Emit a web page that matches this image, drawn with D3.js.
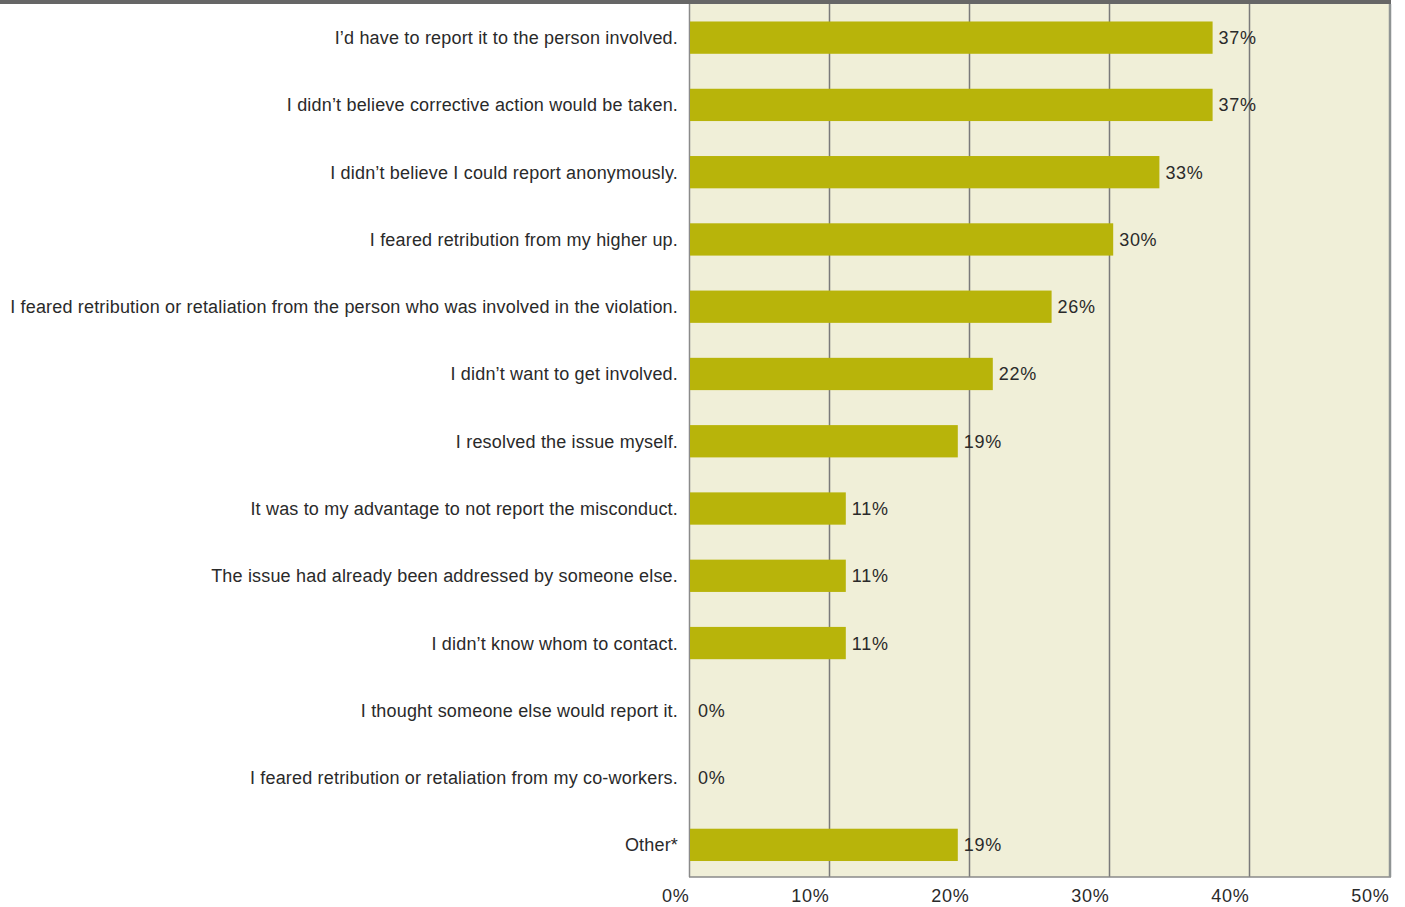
<!DOCTYPE html>
<html><head><meta charset="utf-8">
<script src="https://cdn.jsdelivr.net/npm/d3@7"></script>
<style>body{margin:0;background:#fff}svg{display:block}</style>
</head><body>
<svg id="c" width="1405" height="907"></svg>
<script>
const categories = [
  "I’d have to report it to the person involved.",
  "I didn’t believe corrective action would be taken.",
  "I didn’t believe I could report anonymously.",
  "I feared retribution from my higher up.",
  "I feared retribution or retaliation from the person who was involved in the violation.",
  "I didn’t want to get involved.",
  "I resolved the issue myself.",
  "It was to my advantage to not report the misconduct.",
  "The issue had already been addressed by someone else.",
  "I didn’t know whom to contact.",
  "I thought someone else would report it.",
  "I feared retribution or retaliation from my co-workers.",
  "Other*"
];
const values = [37.4, 37.4, 33.6, 30.3, 25.9, 21.7, 19.2, 11.2, 11.2, 11.2, 0, 0, 19.2];
const valueLabels = ["37%","37%","33%","30%","26%","22%","19%","11%","11%","11%","0%","0%","19%"];
const tickValues = [0, 10, 20, 30, 40, 50];
const tickLabels = ["0%","10%","20%","30%","40%","50%"];

const svg = d3.select("#c");
const L = 689, R = 1390, T = 4, B = 877;
const font = "'Liberation Sans', Arial, sans-serif";
const x = d3.scaleLinear().domain([0, 50]).range([L, R - 1]);
const y = d3.scaleBand().domain(categories).range([T, B + 1.5]).paddingInner(0.52).paddingOuter(0.26);

svg.append("rect").attr("x", L).attr("y", T).attr("width", R - L).attr("height", B - T).attr("fill", "#f0efd8");

// gridlines
svg.append("g").selectAll("line").data(tickValues.slice(1, -1)).join("line")
  .attr("x1", d => x(d) + 0.5).attr("x2", d => x(d) + 0.5)
  .attr("y1", T).attr("y2", B).attr("stroke", "#7a7a7a").attr("stroke-width", 1.5);

// borders
svg.append("line").attr("x1", L + 0.5).attr("x2", L + 0.5).attr("y1", T).attr("y2", B).attr("stroke", "#8a8a8a").attr("stroke-width", 1.5);
svg.append("line").attr("x1", L).attr("x2", R + 1).attr("y1", B).attr("y2", B).attr("stroke", "#8a8a8a").attr("stroke-width", 1.5);
svg.append("line").attr("x1", R).attr("x2", R).attr("y1", T).attr("y2", B).attr("stroke", "#8f9494").attr("stroke-width", 2.5);
svg.append("rect").attr("x", 0).attr("y", 0).attr("width", R + 1).attr("height", 4).attr("fill", "#666");

// bars
svg.append("g").selectAll("rect").data(values).join("rect")
  .attr("x", L + 1).attr("y", (d, i) => y(categories[i]))
  .attr("width", d => Math.max(0, x(d) - L - 1)).attr("height", y.bandwidth())
  .attr("fill", "#b8b40a");

// value labels
svg.append("g").selectAll("text").data(values).join("text")
  .attr("x", (d, i) => x(d) + (d === 0 ? 9 : 6))
  .attr("y", (d, i) => y(categories[i]) + y.bandwidth() / 2)
  .attr("dy", "0.36em").attr("font-family", font).attr("font-size", 18)
  .attr("letter-spacing", "0.7px").attr("fill", "#2a2a2a")
  .text((d, i) => valueLabels[i]);

// category labels
svg.append("g").selectAll("text").data(categories).join("text")
  .attr("x", 678).attr("y", d => y(d) + y.bandwidth() / 2)
  .attr("dy", "0.36em").attr("text-anchor", "end")
  .attr("font-family", font).attr("font-size", 18).attr("letter-spacing", "0.18px").attr("fill", "#2a2a2a")
  .text(d => d);

// x tick labels (end-anchored at gridlines)
const xAxis = d3.axisBottom(x).tickValues(tickValues).tickFormat((d, i) => tickLabels[i]).tickSize(0).tickPadding(0);
const gx = svg.append("g").attr("transform", `translate(0,${B})`).call(xAxis);
gx.select(".domain").remove();
gx.selectAll("text").attr("text-anchor", "end").attr("y", 12).attr("dy", "0.71em")
  .attr("font-family", font).attr("font-size", 18).attr("letter-spacing", "0.7px").attr("fill", "#2a2a2a");
</script>
</body></html>
